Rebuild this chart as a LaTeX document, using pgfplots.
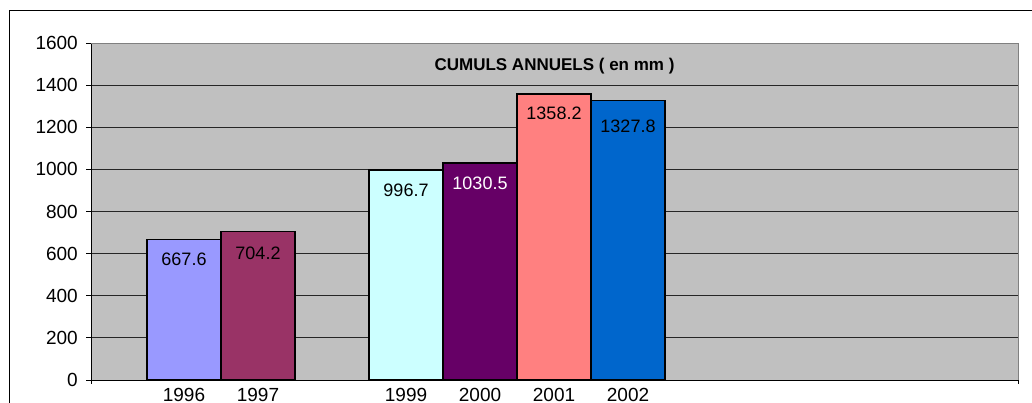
\documentclass[border=0pt]{standalone}
\usepackage{pgfplots}
\pgfplotsset{compat=1.18}
\usepackage{fontspec}
\setmainfont{Liberation Sans}
\definecolor{plotbg}{HTML}{C0C0C0}
\definecolor{cA}{HTML}{9999FF}
\definecolor{cB}{HTML}{993366}
\definecolor{cD}{HTML}{CCFFFF}
\definecolor{cE}{HTML}{660066}
\definecolor{cF}{HTML}{FF8080}
\definecolor{cG}{HTML}{0066CC}
\begin{document}
\begin{tikzpicture}
\draw[black, line width=1pt] (9pt,-10pt) -- (1045pt,-10pt);
\draw[black, line width=1pt] (9pt,-10pt) -- (9pt,-415pt);
\begin{axis}[
  at={(91pt,-380pt)}, anchor=south west,
  scale only axis, width=927pt, height=337pt,
  xmin=-1.2568, xmax=11.2703, ymin=0, ymax=1600,
  axis lines=left, axis line style={-, black, line width=1pt},
  axis background/.style={fill=plotbg},
  ytick={0,200,...,1600},
  ymajorgrids, grid style={black!85, line width=0.8pt},
  tick align=outside, major tick length=5pt,
  ytick style={black, line width=0.8pt},
  xtick={0,1,3,4,5,6}, xticklabels={1996,1997,1999,2000,2001,2002},
  xtick style={draw=none},
  tick label style={font=\fontsize{19}{22}\selectfont},
  /pgf/number format/assume math mode=true,
  /pgf/number format/1000 sep={},
  yticklabel style={inner sep=0pt, anchor=east, xshift=-8pt},
  xticklabel style={inner sep=0pt, anchor=north, yshift=-3.5pt},
  clip=false,
  point meta=y,
  nodes near coords={\pgfmathprintnumber[fixed,fixed zerofill,precision=1,1000 sep={}]{\pgfplotspointmeta}},
  every node near coord/.append style={anchor=center, font=\fontsize{18}{21}\selectfont},
]
\addplot[ybar, bar width=1, fill=cA, draw=black, line width=1.5pt,
  every node near coord/.append style={yshift=-20pt, text=black}] coordinates {(0,667.6)};
\addplot[ybar, bar width=1, fill=cB, draw=black, line width=1.5pt,
  every node near coord/.append style={yshift=-21.6pt, text=black}] coordinates {(1,704.2)};
\addplot[ybar, bar width=1, fill=cD, draw=black, line width=1.5pt,
  every node near coord/.append style={yshift=-20pt, text=black}] coordinates {(3,996.7)};
\addplot[ybar, bar width=1, fill=cE, draw=black, line width=1.5pt,
  every node near coord/.append style={yshift=-20pt, text=white}] coordinates {(4,1030.5)};
\addplot[ybar, bar width=1, fill=cF, draw=black, line width=1.5pt,
  every node near coord/.append style={yshift=-19pt, text=black}] coordinates {(5,1358.2)};
\addplot[ybar, bar width=1, fill=cG, draw=black, line width=1.5pt,
  every node near coord/.append style={yshift=-25.7pt, text=black}] coordinates {(6,1327.8)};
\draw[black!50, line width=1pt] (rel axis cs:0,1) -- (rel axis cs:1,1) -- (rel axis cs:1,0);
\draw[black, line width=1pt] (rel axis cs:0,0) -- (rel axis cs:1,0);
\draw[black, line width=0.8pt] (rel axis cs:0,0) -- ([yshift=-4pt]rel axis cs:0,0);
\draw[black, line width=0.8pt] (rel axis cs:1,0) -- ([yshift=-4pt]rel axis cs:1,0);
\node[font=\bfseries\fontsize{17}{20}\selectfont] at (rel axis cs:0.5,0.9318) {CUMULS ANNUELS ( en mm )};
\end{axis}
\pgfresetboundingbox
\useasboundingbox (0pt,0pt) rectangle (1032pt,-402pt);
\end{tikzpicture}
\end{document}
